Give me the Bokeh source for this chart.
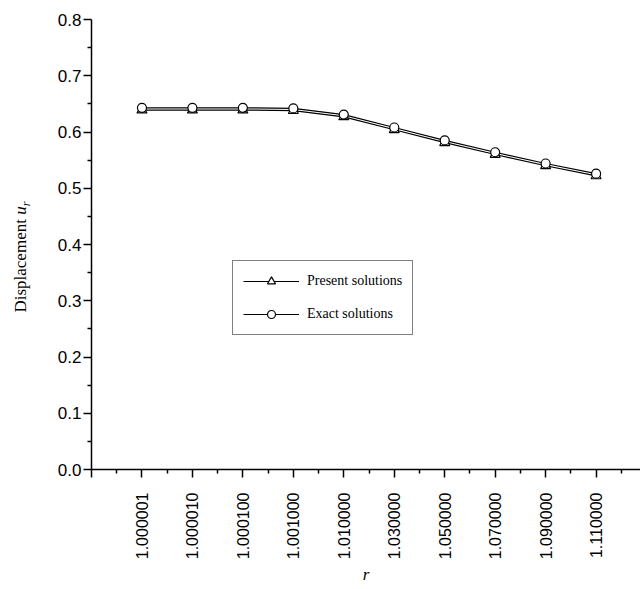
import math
from bokeh.plotting import figure
from bokeh.layouts import row
from bokeh.models import FixedTicker, Range1d, Legend, LegendItem, Label, PrintfTickFormatter
from bokeh.embed import file_html
from bokeh.resources import INLINE

# ---- data ----
r_labels = ["1.000001", "1.000010", "1.000100", "1.001000", "1.010000",
            "1.030000", "1.050000", "1.070000", "1.090000", "1.110000"]
exact = [0.643, 0.643, 0.643, 0.642, 0.631, 0.608, 0.585, 0.564, 0.544, 0.526]
present = [0.639, 0.639, 0.639, 0.638, 0.627, 0.604, 0.581, 0.560, 0.540, 0.522]
y_ticks = [0.0, 0.1, 0.2, 0.3, 0.4, 0.5, 0.6, 0.7, 0.8]
y_minor = [0.05, 0.15, 0.25, 0.35, 0.45, 0.55, 0.65, 0.75]

positions = list(range(1, len(r_labels) + 1))

tick_font = "Liberation Sans"
serif = "Liberation Serif"

# ---- narrow panel carrying the y-axis title "Displacement u_r" ----
# (its frame is aligned with the main frame, so it shares the y range)
side = figure(width=36, height=589, output_backend="svg", toolbar_location=None,
              x_range=Range1d(0, 36), y_range=Range1d(0, 0.8),
              x_axis_type=None, y_axis_type=None,
              min_border_left=0, min_border_right=0, min_border_top=19,
              min_border_bottom=120)
side.xgrid.visible = False
side.ygrid.visible = False
side.outline_line_color = None
side.add_layout(Label(x=20, y=0.279, text="Displacement", angle=math.pi / 2,
                      text_font=serif, text_font_size="17px", text_color="black",
                      text_align="left", text_baseline="middle"))
side.add_layout(Label(x=20, y=0.453, text="u", angle=math.pi / 2,
                      text_font_style="italic", text_font=serif,
                      text_font_size="17px", text_color="black",
                      text_align="left", text_baseline="middle"))
side.add_layout(Label(x=25, y=0.468, text="r", angle=math.pi / 2,
                      text_font_style="italic", text_font=serif,
                      text_font_size="12px", text_color="black",
                      text_align="left", text_baseline="middle"))

# ---- main chart ----
p = figure(frame_width=549, frame_height=450, output_backend="svg",
           toolbar_location=None,
           x_range=Range1d(0, 10.88), y_range=Range1d(0, 0.8),
           min_border_left=55, min_border_right=0, min_border_top=19,
           min_border_bottom=120)
p.xgrid.visible = False
p.ygrid.visible = False
p.outline_line_color = None

# x axis
xa = p.xaxis[0]
xa.ticker = FixedTicker(ticks=[0] + positions,
                        minor_ticks=[i + 0.5 for i in range(0, len(positions) + 1)])
overrides = {0: ""}
for pos, lab in zip(positions, r_labels):
    overrides[pos] = lab
xa.major_label_overrides = overrides
xa.major_label_orientation = math.pi / 2
xa.axis_label = "r"
xa.axis_label_text_font = serif
xa.axis_label_text_font_style = "italic"
xa.axis_label_text_font_size = "17px"
xa.axis_label_text_color = "black"
xa.axis_label_standoff = 3

# y axis
ya = p.yaxis[0]
ya.ticker = FixedTicker(ticks=y_ticks, minor_ticks=y_minor)
ya.formatter = PrintfTickFormatter(format="%.1f")

for ax in (xa, ya):
    ax.axis_line_color = "black"
    ax.axis_line_width = 1.5
    ax.major_tick_line_color = "black"
    ax.major_tick_line_width = 1.5
    ax.minor_tick_line_color = "black"
    ax.minor_tick_line_width = 1.5
    ax.major_tick_in = 0
    ax.major_tick_out = 8
    ax.minor_tick_in = 0
    ax.minor_tick_out = 4
    ax.major_label_text_font = tick_font
    ax.major_label_text_color = "black"
xa.major_label_text_font_size = "16px"
ya.major_label_text_font_size = "17px"
xa.major_label_standoff = 15
ya.major_label_standoff = 2

# data
l1 = p.line(positions, present, line_color="black", line_width=1.2)
l2 = p.line(positions, exact, line_color="black", line_width=1.2)
s1 = p.scatter(positions, present, marker="triangle", size=10,
               fill_color="white", line_color="black", line_width=1.2)
s2 = p.scatter(positions, exact, marker="circle", size=9,
               fill_color="white", line_color="black", line_width=1.2)

legend = Legend(items=[LegendItem(label="Present solutions", renderers=[l1, s1]),
                       LegendItem(label="Exact solutions", renderers=[l2, s2])],
                location=(141, 134), padding=10, spacing=13, margin=0,
                glyph_width=56, glyph_height=20, label_height=20,
                label_standoff=8,
                label_text_font=serif, label_text_font_size="14px",
                label_text_color="black",
                border_line_color="black", border_line_width=1,
                background_fill_alpha=1.0)
p.add_layout(legend, "center")

layout = row(side, p, spacing=0)
open("out.html", "w").write(file_html(layout, INLINE))
